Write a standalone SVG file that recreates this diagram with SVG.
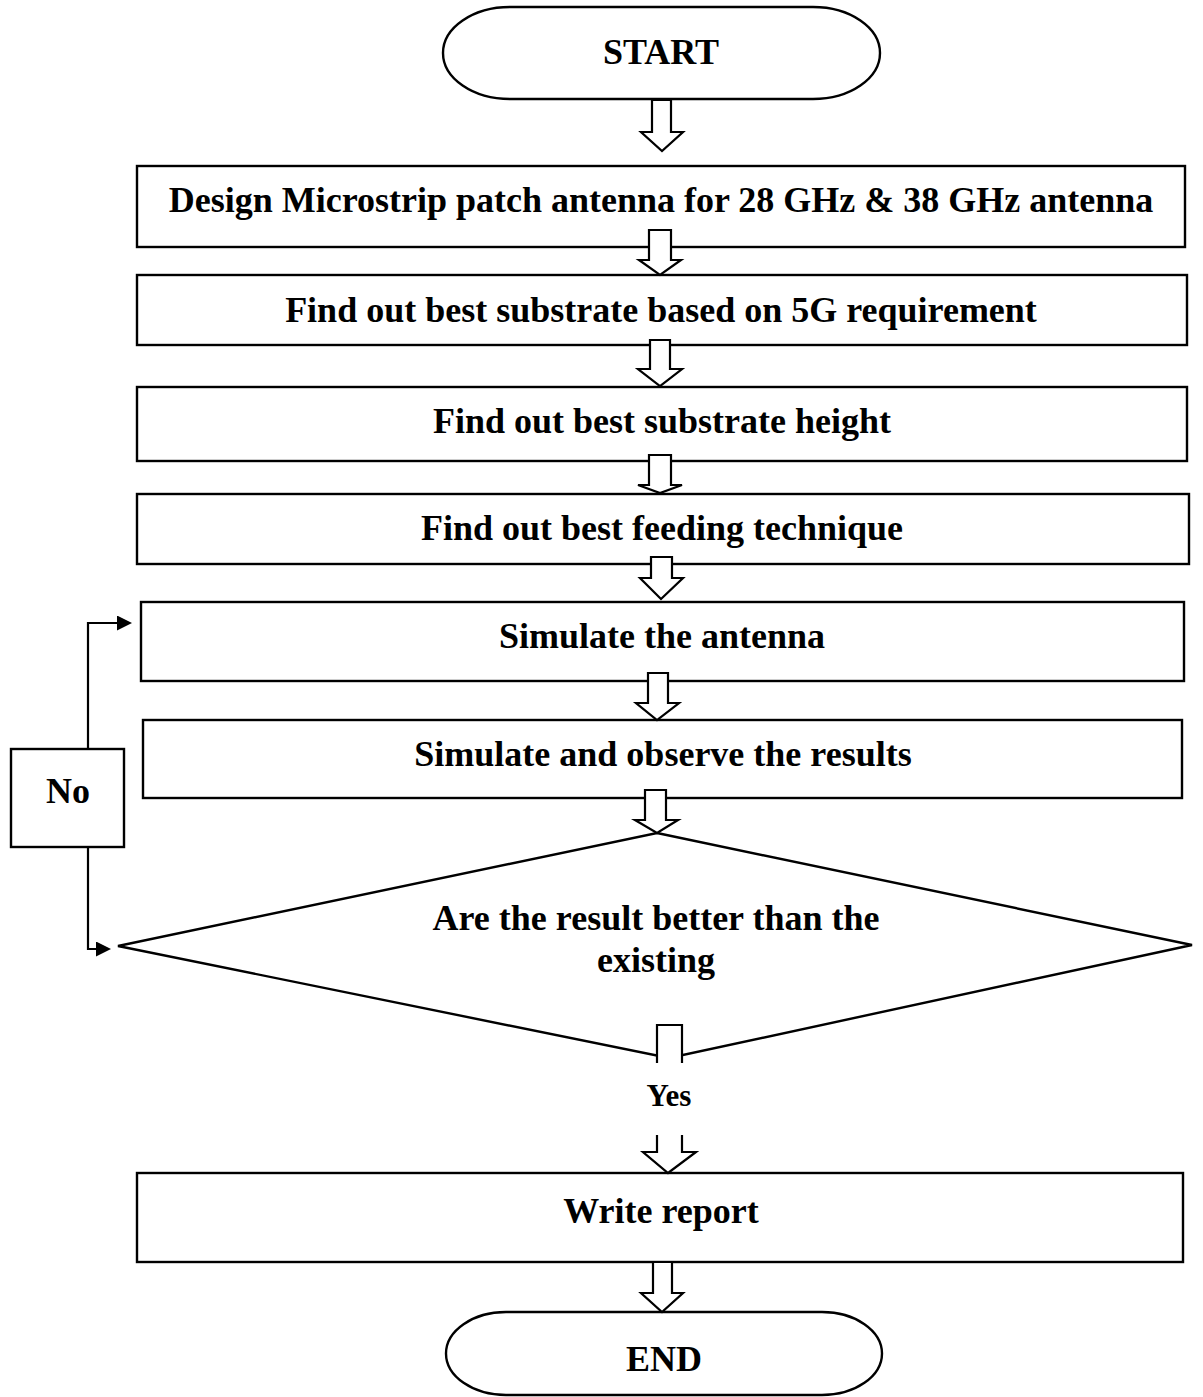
<svg xmlns="http://www.w3.org/2000/svg" width="1203" height="1397" viewBox="0 0 1203 1397">
<defs>
<style>
.shape{fill:#fff;stroke:#000;stroke-width:2.4}
.blk{fill:#fff;stroke:#000;stroke-width:2.2;stroke-linejoin:miter}
.line{fill:none;stroke:#000;stroke-width:2.2}
.t{font-family:"Liberation Serif","Times New Roman",serif;font-weight:bold;font-size:36px;fill:#000;text-anchor:middle}
.ts{font-family:"Liberation Serif","Times New Roman",serif;font-weight:bold;font-size:31px;fill:#000;text-anchor:middle}
</style>
<marker id="ah" markerUnits="userSpaceOnUse" markerWidth="16" markerHeight="16" refX="13" refY="7.5" orient="auto">
<path d="M0,0 L15,7.5 L0,15 z" fill="#000"/>
</marker>
</defs>
<rect width="1203" height="1397" fill="#fff"/>

<g id="start">
<rect class="shape" x="443" y="7" width="437" height="92" rx="67" ry="46"/>
<text class="t" x="661" y="64">START</text>
</g>
<g id="design">
<rect class="shape" x="137" y="166" width="1048" height="81"/>
<text class="t" x="661" y="212">Design Microstrip patch antenna for 28 GHz &amp; 38 GHz antenna</text>
</g>
<g id="substrate">
<rect class="shape" x="137" y="275" width="1050" height="70"/>
<text class="t" x="661" y="322">Find out best substrate based on 5G requirement</text>
</g>
<g id="height">
<rect class="shape" x="137" y="387" width="1050" height="74"/>
<text class="t" x="662" y="433">Find out best substrate height</text>
</g>
<g id="feeding">
<rect class="shape" x="137" y="494" width="1052" height="70"/>
<text class="t" x="662" y="540">Find out best feeding technique</text>
</g>
<g id="simulate">
<rect class="shape" x="141" y="602" width="1043" height="79"/>
<text class="t" x="662" y="648">Simulate the antenna</text>
</g>
<g id="observe">
<rect class="shape" x="143" y="720" width="1039" height="78"/>
<text class="t" x="663" y="766">Simulate and observe the results</text>
</g>
<g id="decision">
<polygon class="shape" points="657,833 1192,945 669,1058 118,946"/>
<text class="t" x="656" y="930">Are the result better than the</text>
<text class="t" x="656" y="972">existing</text>
</g>
<g id="no">
<rect class="shape" x="11" y="749" width="113" height="98"/>
<text class="t" x="68" y="803">No</text>
</g>
<g id="report">
<rect class="shape" x="137" y="1173" width="1046" height="89"/>
<text class="t" x="661" y="1223">Write report</text>
</g>
<g id="end">
<rect class="shape" x="446" y="1312" width="436" height="83" rx="60" ry="41.5"/>
<text class="t" x="664" y="1371">END</text>
</g>

<g id="connectors">
<polygon class="blk" points="652,100 671,100 671,132 683,132 662,151 641,132 652,132"/>
<polygon class="blk" points="649,230 671,230 671,260 681,260 660,275 639,260 649,260"/>
<polygon class="blk" points="650,340 670,340 670,369 682,369 660,386 638,369 650,369"/>
<polygon class="blk" points="649,455 671,455 671,485 682,485 660,493 638,485 649,485"/>
<polygon class="blk" points="651,557 672,557 672,578 683,578 661,599 640,578 651,578"/>
<polygon class="blk" points="648,673 668,673 668,703 679,703 657,720 636,703 648,703"/>
<polygon class="blk" points="645,790 666,790 666,820 678,820 657,833 635,820 645,820"/>
<path class="blk" d="M657,1063 V1025 H682 V1063"/>
<path class="blk" d="M657,1135 V1152 H643 L668,1173 L696,1152 H682 V1135"/>
<polygon class="blk" points="653,1262 672,1262 672,1293 683,1293 662,1312 641,1293 653,1293"/>
<path class="line" d="M88,749 V623 H130" marker-end="url(#ah)"/>
<path class="line" d="M88,847 V949 H109" marker-end="url(#ah)"/>
<text class="ts" x="669" y="1106">Yes</text>
</g>
</svg>
